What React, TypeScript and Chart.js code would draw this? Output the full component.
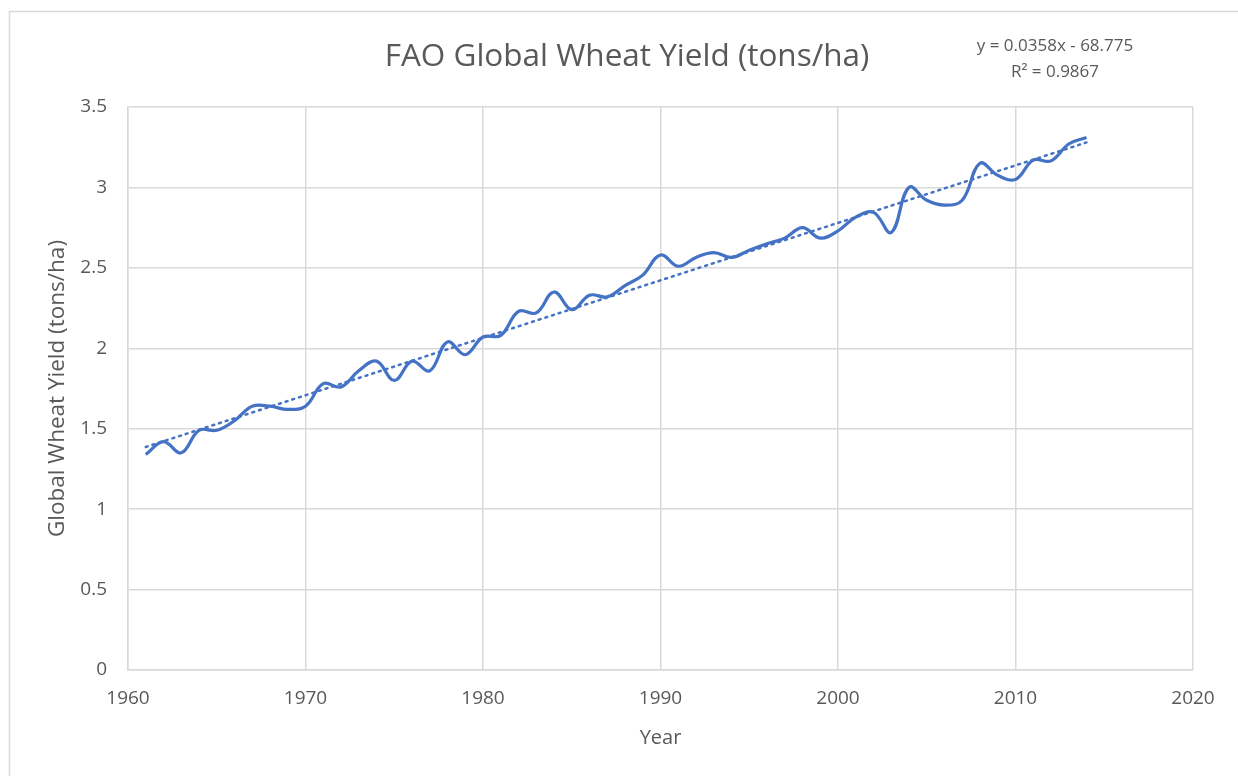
import React, { useEffect, useRef } from "react";
import { Chart, registerables } from "chart.js";

Chart.register(...registerables);

const years = [
  1961, 1962, 1963, 1964, 1965, 1966, 1967, 1968, 1969, 1970,
  1971, 1972, 1973, 1974, 1975, 1976, 1977, 1978, 1979, 1980,
  1981, 1982, 1983, 1984, 1985, 1986, 1987, 1988, 1989, 1990,
  1991, 1992, 1993, 1994, 1995, 1996, 1997, 1998, 1999, 2000,
  2001, 2002, 2003, 2004, 2005, 2006, 2007, 2008, 2009, 2010,
  2011, 2012, 2013, 2014,
];

const yieldValues = [
  1.34, 1.42, 1.35, 1.49, 1.49, 1.55, 1.64, 1.64, 1.62, 1.64,
  1.78, 1.76, 1.86, 1.92, 1.8, 1.92, 1.86, 2.04, 1.96, 2.07,
  2.08, 2.23, 2.22, 2.35, 2.24, 2.33, 2.32, 2.39, 2.455, 2.58,
  2.51, 2.565, 2.595, 2.565, 2.61, 2.65, 2.685, 2.75, 2.685, 2.73,
  2.815, 2.845, 2.72, 3.0, 2.92, 2.89, 2.92, 3.15, 3.075, 3.05,
  3.17, 3.165, 3.27, 3.31,
];

const titleText = "FAO Global Wheat Yield (tons/ha)";
const equationText = "y = 0.0358x - 68.775";
const r2Text = "R² = 0.9867";
const xAxisTitle = "Year";
const yAxisTitle = "Global Wheat Yield (tons/ha)";

const FONT = "'Open Sans', 'Noto Sans', sans-serif";
const TEXT = "#595959";
const GRID = "#d9d9d9";
const BLUE = "#4472C4";

function regression(xs: number[], ys: number[]) {
  const n = xs.length;
  const mx = xs.reduce((a, b) => a + b, 0) / n;
  const my = ys.reduce((a, b) => a + b, 0) / n;
  let sxy = 0;
  let sxx = 0;
  for (let i = 0; i < n; i++) {
    sxy += (xs[i] - mx) * (ys[i] - my);
    sxx += (xs[i] - mx) * (xs[i] - mx);
  }
  const slope = sxy / sxx;
  return { slope, intercept: my - slope * mx };
}

const textPlugin = {
  id: "textPlugin",
  beforeDraw(chart: any) {
    const ctx = chart.ctx;
    ctx.save();
    ctx.fillStyle = "#ffffff";
    ctx.fillRect(0, 0, chart.width, chart.height);
    ctx.strokeStyle = GRID;
    ctx.lineWidth = 1.5;
    ctx.strokeRect(9.5, 11.5, 1400, 1000);
    ctx.restore();
  },
  afterDraw(chart: any) {
    const ctx = chart.ctx;
    const area = chart.chartArea;
    ctx.save();
    ctx.fillStyle = TEXT;
    ctx.textAlign = "center";
    ctx.textBaseline = "middle";
    ctx.font = `31.5px ${FONT}`;
    ctx.fillText(titleText, 627, 57);
    ctx.font = `17px ${FONT}`;
    ctx.fillText(equationText, 1055, 46);
    ctx.fillText(r2Text, 1055, 72);
    ctx.font = `20px ${FONT}`;
    ctx.fillText(xAxisTitle, (area.left + area.right) / 2, 738);
    ctx.translate(58, (area.top + area.bottom) / 2);
    ctx.rotate(-Math.PI / 2);
    ctx.font = `22.5px ${FONT}`;
    ctx.fillText(yAxisTitle, 0, 0);
    ctx.restore();
  },
};

export default function App() {
  const canvasRef = useRef<HTMLCanvasElement | null>(null);

  useEffect(() => {
    if (!canvasRef.current) return;
    const { slope, intercept } = regression(years, yieldValues);
    const first = years[0];
    const last = years[years.length - 1];
    const trend = [
      { x: first, y: slope * first + intercept },
      { x: last, y: slope * last + intercept },
    ];
    const points = years.map((x, i) => ({ x, y: yieldValues[i] }));

    const chart = new Chart(canvasRef.current, {
      type: "scatter",
      data: {
        datasets: [
          {
            label: "Yield",
            data: points,
            showLine: true,
            borderColor: BLUE,
            borderWidth: 3.2,
            pointRadius: 0,
            tension: 0.4,
            fill: false,
          },
          {
            label: "Linear trend",
            data: trend,
            showLine: true,
            borderColor: BLUE,
            borderWidth: 2.5,
            borderDash: [2, 5],
            borderCapStyle: "round",
            pointRadius: 0,
            fill: false,
          },
        ],
      },
      options: {
        responsive: false,
        animation: false,
        events: [],
        layout: { padding: { left: 0, top: 107, right: 45, bottom: 0 } },
        plugins: {
          legend: { display: false },
          title: { display: false },
          tooltip: { enabled: false },
        },
        scales: {
          x: {
            type: "linear",
            min: 1960,
            max: 2020,
            ticks: {
              stepSize: 10,
              color: TEXT,
              font: { family: FONT, size: 19 },
              padding: 17,
              maxRotation: 0,
              callback: (v: any) => String(v),
            },
            grid: { color: GRID, lineWidth: 1.5, drawTicks: false },
            border: { color: GRID, width: 1.5 },
            afterFit: (scale: any) => {
              scale.height = 106;
            },
          },
          y: {
            min: 0,
            max: 3.5,
            ticks: {
              stepSize: 0.5,
              color: TEXT,
              font: { family: FONT, size: 19 },
              padding: 21,
              callback: (v: any) => String(v),
            },
            grid: { color: GRID, lineWidth: 1.5, drawTicks: false },
            border: { color: GRID, width: 1.5 },
            afterFit: (scale: any) => {
              scale.width = 128;
            },
          },
        },
      },
      plugins: [textPlugin],
    });
    return () => chart.destroy();
  }, []);

  return (
    <div style={{ position: "absolute", left: 0, top: 0, width: 1238, height: 776 }}>
      <canvas ref={canvasRef} width={1238} height={776} />
    </div>
  );
}
